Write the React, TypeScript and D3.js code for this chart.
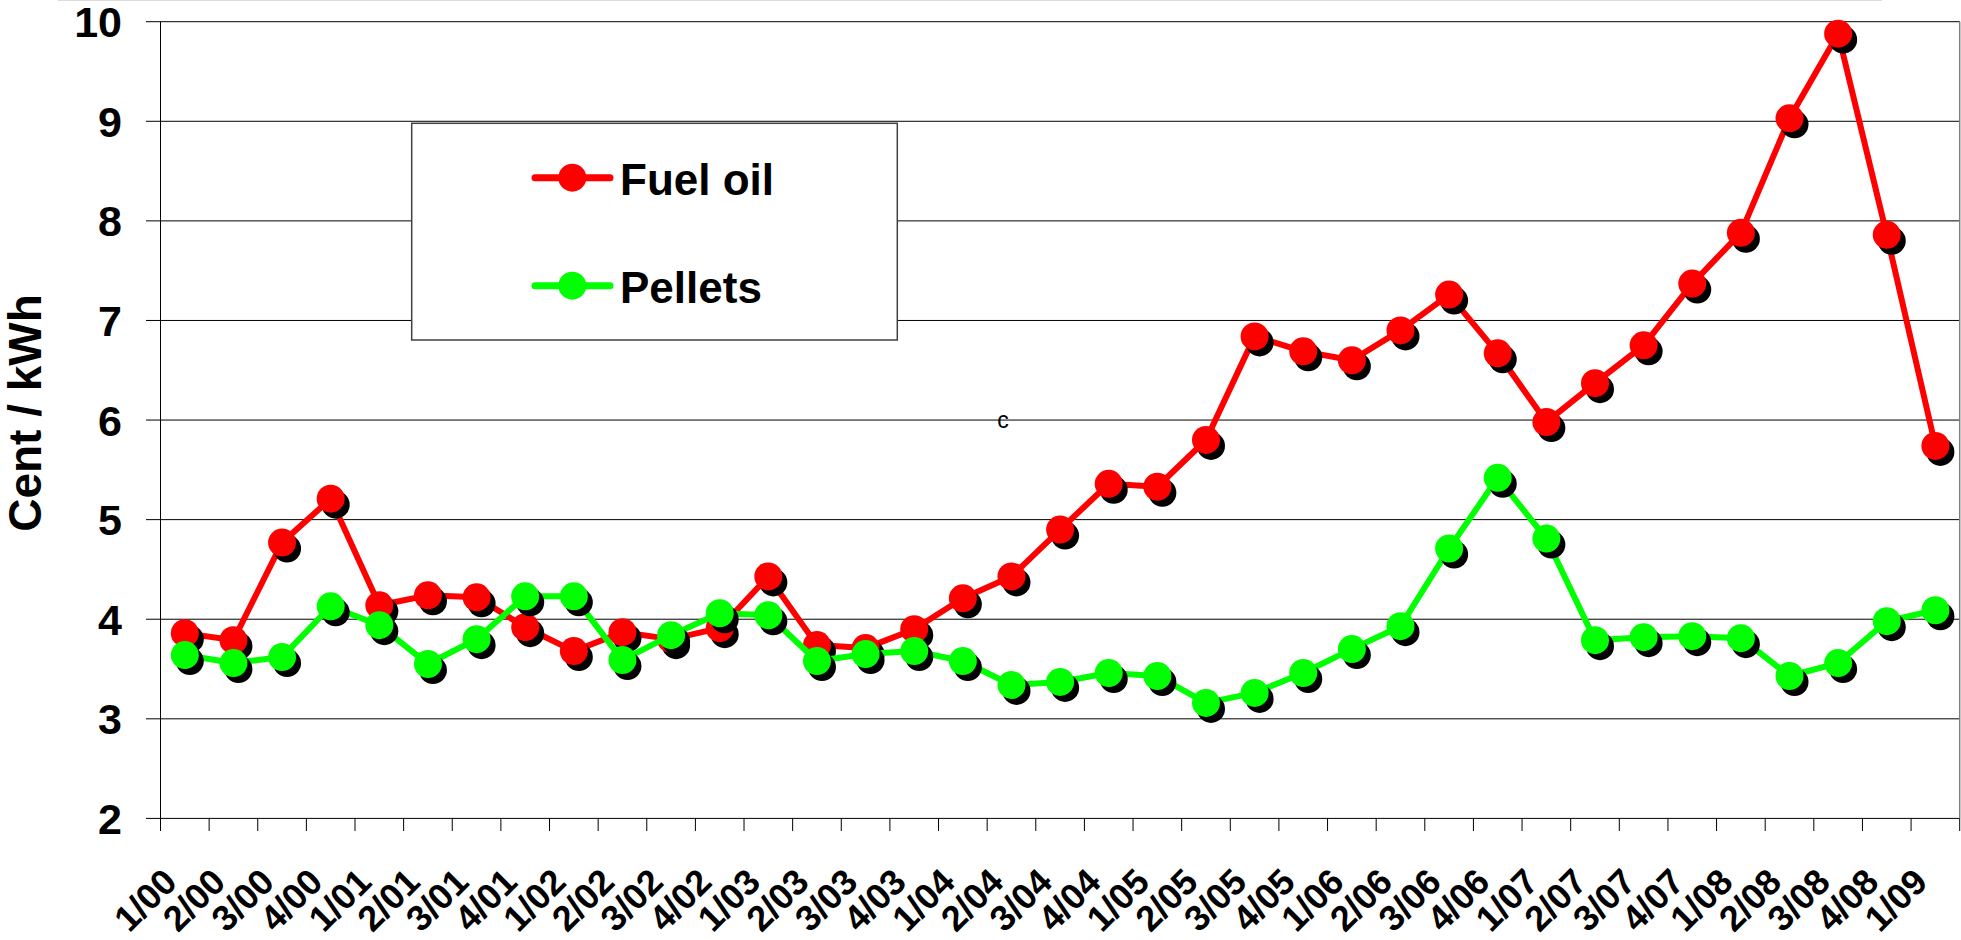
import * as d3 from "d3";

const quarters = [
  "1/00", "2/00", "3/00", "4/00",
  "1/01", "2/01", "3/01", "4/01",
  "1/02", "2/02", "3/02", "4/02",
  "1/03", "2/03", "3/03", "4/03",
  "1/04", "2/04", "3/04", "4/04",
  "1/05", "2/05", "3/05", "4/05",
  "1/06", "2/06", "3/06", "4/06",
  "1/07", "2/07", "3/07", "4/07",
  "1/08", "2/08", "3/08", "4/08",
  "1/09",
];

const fuelOil = [
  3.86, 3.79, 4.77, 5.21, 4.14, 4.24, 4.22, 3.92, 3.68, 3.87, 3.8, 3.91,
  4.43, 3.74, 3.71, 3.9, 4.21, 4.43, 4.9, 5.36, 5.33, 5.8, 6.84, 6.69,
  6.6, 6.9, 7.26, 6.67, 5.98, 6.37, 6.75, 7.37, 7.88, 9.03, 9.88, 7.86,
  5.74,
];

const pellets = [
  3.64, 3.56, 3.62, 4.13, 3.94, 3.55, 3.8, 4.23, 4.23, 3.59, 3.84, 4.06,
  4.04, 3.58, 3.65, 3.68, 3.58, 3.34, 3.37, 3.46, 3.43, 3.16, 3.26, 3.46,
  3.7, 3.93, 4.71, 5.42, 4.81, 3.79, 3.82, 3.83, 3.81, 3.43, 3.56, 3.98,
  4.09,
];

const yTicks = [2, 3, 4, 5, 6, 7, 8, 9, 10];

const series = [
  { name: "Fuel oil", values: fuelOil, color: "#ff0000" },
  { name: "Pellets", values: pellets, color: "#00ff00" },
];

const FONT = "'Liberation Sans', Arial, Helvetica, sans-serif";

export default function App() {
  const W = 1961;
  const H = 940;
  const left = 160.5;
  const right = 1959.7;
  const top = 21.7;
  const bottom = 818.4;

  const x = d3.scaleBand<string>().domain(quarters).range([left, right]);
  const y = d3.scaleLinear().domain([2, 10]).range([bottom, top]);
  const cx = (i: number) => (x(quarters[i]) as number) + x.bandwidth() / 2;

  const line = d3
    .line<number>()
    .x((_, i) => cx(i))
    .y((d) => y(d));

  const tickXs = quarters.map((q) => x(q) as number).concat([right]);

  return (
    <svg
      width={W}
      height={H}
      style={{ position: "absolute", left: 0, top: 0, display: "block", background: "#fff" }}
      fontFamily={FONT}
    >
      <rect width={W} height={H} fill="#fff" />
      <line x1={58} x2={1882} y1={0.5} y2={0.5} stroke="#dcdcdc" />

      {/* gridlines */}
      {yTicks.map((t) => (
        <line key={t} x1={146} x2={right} y1={y(t)} y2={y(t)} stroke="#000" strokeWidth={1} />
      ))}
      <line x1={right} x2={right} y1={top} y2={bottom} stroke="#808080" strokeWidth={1.5} />
      <line x1={left} x2={left} y1={top} y2={bottom} stroke="#000" strokeWidth={1} />

      {/* x ticks */}
      {tickXs.map((tx, i) => (
        <line key={i} x1={tx} x2={tx} y1={bottom} y2={831} stroke="#000" strokeWidth={1} />
      ))}

      {/* y labels */}
      {yTicks.map((t) => (
        <text
          key={t}
          x={122}
          y={y(t)}
          dy="0.36em"
          textAnchor="end"
          fontSize={43}
          fontWeight="bold"
          fill="#000"
        >
          {t}
        </text>
      ))}

      {/* x labels */}
      {quarters.map((q, i) => (
        <text
          key={q}
          transform={`translate(${cx(i) - 6},884) rotate(-45)`}
          textAnchor="end"
          fontSize={36}
          fontWeight="bold"
          fill="#000"
        >
          {q}
        </text>
      ))}

      <text
        transform="translate(41,413) rotate(-90)"
        textAnchor="middle"
        fontSize={46}
        fontWeight="bold"
        fill="#000"
      >
        Cent / kWh
      </text>

      <text x={1003} y={428} textAnchor="middle" fontSize={23} fill="#000">
        c
      </text>

      {/* series */}
      {series.map((s) => (
        <g key={s.name}>
          <path d={line(s.values) as string} fill="none" stroke={s.color} strokeWidth={6} strokeLinejoin="round" />
          {s.values.map((v, i) => (
            <circle key={"s" + i} cx={cx(i) + 5} cy={y(v) + 6} r={14} fill="#000" />
          ))}
          {s.values.map((v, i) => (
            <circle key={"m" + i} cx={cx(i)} cy={y(v)} r={14} fill={s.color} />
          ))}
        </g>
      ))}

      {/* legend */}
      <rect x={411.7} y={123.3} width={485.6} height={216.7} fill="#fff" stroke="#404040" strokeWidth={1.5} />
      {series.map((s, i) => {
        const ly = 177.7 + i * 108;
        return (
          <g key={s.name}>
            <line x1={535} x2={610} y1={ly} y2={ly} stroke={s.color} strokeWidth={7} strokeLinecap="round" />
            <circle cx={572.3} cy={ly} r={14} fill={s.color} />
            <text x={620} y={ly + 17.5} fontSize={44} fontWeight="bold" fill="#000">
              {s.name}
            </text>
          </g>
        );
      })}
    </svg>
  );
}
